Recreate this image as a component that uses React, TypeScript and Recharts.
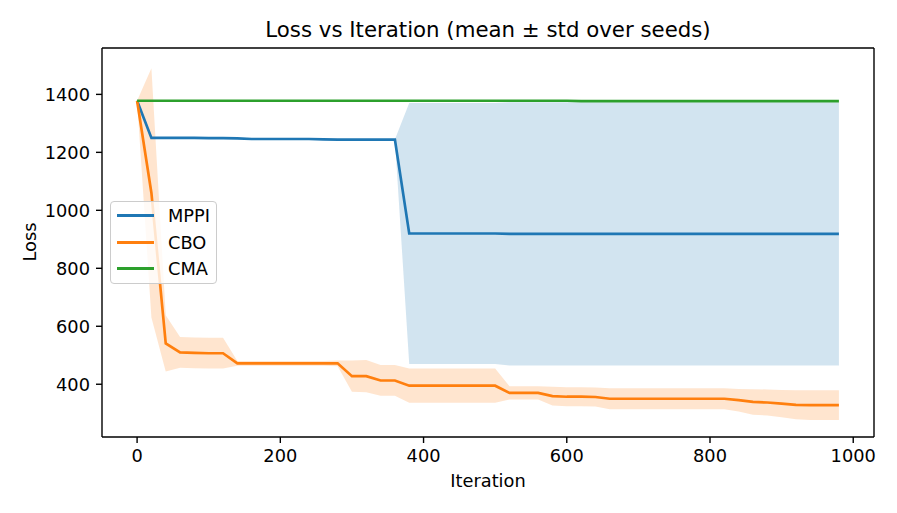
import {
  ComposedChart,
  Line,
  Area,
  XAxis,
  YAxis,
  Legend,
  ReferenceLine,
} from "recharts";

const iterations = [
  0, 20, 40, 60, 80, 100, 120, 140, 160, 180, 200, 220, 240, 260, 280, 300, 320,
  340, 360, 380, 400, 420, 440, 460, 480, 500, 520, 540, 560, 580, 600, 620, 640,
  660, 680, 700, 720, 740, 760, 780, 800, 820, 840, 860, 880, 900, 920, 940, 960,
  980,
];

const mppiMean = [
  1378, 1250, 1250, 1250, 1250, 1249, 1249, 1248, 1246, 1246, 1246, 1246, 1246,
  1245, 1244, 1244, 1244, 1244, 1244, 920, 920, 920, 920, 920, 920, 920, 919, 919,
  919, 919, 919, 919, 919, 919, 919, 919, 919, 919, 919, 919, 919, 919, 919, 919,
  919, 919, 919, 919, 919, 919,
];
const mppiStd = [
  0, 0, 0, 0, 0, 0, 0, 0, 0, 0, 0, 0, 0, 0, 0, 0, 0, 0, 0, 450, 450, 450, 450,
  450, 450, 450, 454, 454, 454, 454, 454, 454, 454, 454, 454, 454, 454, 454, 454,
  454, 454, 454, 454, 454, 454, 454, 454, 454, 454, 454,
];

const cboMean = [
  1378, 1060, 541, 510, 508, 507, 507, 472, 472, 472, 472, 472, 472, 472, 472, 428,
  428, 413, 413, 395, 395, 395, 395, 395, 395, 395, 370, 370, 370, 359, 357, 357,
  356, 350, 350, 350, 350, 350, 350, 350, 350, 350, 345, 339, 337, 333, 329, 328,
  328, 328,
];
const cboStd = [
  0, 430, 97, 53, 53, 53, 53, 8, 8, 8, 8, 8, 8, 8, 10, 54, 56, 53, 53, 59, 59, 59,
  59, 59, 59, 59, 23, 23, 23, 32, 33, 33, 33, 36, 36, 36, 36, 36, 36, 36, 36, 36,
  39, 44, 45, 47, 50, 51, 51, 51,
];

const cmaMean = [
  1378, 1378, 1378, 1378, 1378, 1378, 1378, 1378, 1378, 1378, 1378, 1378, 1378,
  1378, 1378, 1378, 1378, 1378, 1378, 1378, 1378, 1378, 1378, 1378, 1378, 1378,
  1378, 1378, 1378, 1378, 1378, 1377, 1377, 1377, 1377, 1377, 1377, 1377, 1377,
  1377, 1377, 1377, 1377, 1377, 1377, 1377, 1377, 1377, 1377, 1377,
];

const methods = ["MPPI", "CBO", "CMA"];
const xTicks = [0, 200, 400, 600, 800, 1000];
const yTicks = [400, 600, 800, 1000, 1200, 1400];

const COLORS: Record<string, string> = {
  MPPI: "#1f77b4",
  CBO: "#ff7f0e",
  CMA: "#2ca02c",
};

const FONT = "'DejaVu Sans', sans-serif";
const FS = 17.8;

const data = iterations.map((it, i) => ({
  iter: it,
  MPPI: mppiMean[i],
  CBO: cboMean[i],
  CMA: cmaMean[i],
  mppiBand: [mppiMean[i] - mppiStd[i], mppiMean[i] + mppiStd[i]],
  cboBand: [cboMean[i] - cboStd[i], cboMean[i] + cboStd[i]],
}));

const X_DOMAIN = [-49, 1029];
const Y_DOMAIN = [218, 1560];

function LegendBox() {
  return (
    <div
      style={{
        boxSizing: "border-box",
        width: 107,
        height: 83,
        border: "1px solid #cccccc",
        borderRadius: 4,
        background: "rgba(255,255,255,0.8)",
        paddingLeft: 6,
        fontFamily: FONT,
        fontSize: FS,
        color: "#000",
      }}
    >
      {methods.map((m) => (
        <div
          key={m}
          style={{ display: "flex", alignItems: "center", height: 26.7 }}
        >
          <span
            style={{
              display: "inline-block",
              width: 37,
              height: 3,
              background: COLORS[m],
              marginRight: 14,
            }}
          />
          <span>{m}</span>
        </div>
      ))}
    </div>
  );
}

export default function App() {
  const axisLine = { stroke: "#000", strokeWidth: 1.4 };
  const tick = { fill: "#000", fontSize: FS, fontFamily: FONT };

  return (
    <div
      style={{
        position: "absolute",
        left: 0,
        top: 0,
        width: 897,
        height: 513,
        background: "#fff",
        fontFamily: FONT,
      }}
    >
      <div
        style={{
          position: "absolute",
          left: 102,
          width: 772,
          top: 17.6,
          lineHeight: "24px",
          fontSize: 21.3,
          textAlign: "center",
          color: "#000",
        }}
      >
        Loss vs Iteration (mean ± std over seeds)
      </div>
      <div
        style={{
          position: "absolute",
          left: 29.5,
          top: 242,
          width: 60,
          height: 24,
          lineHeight: "24px",
          fontSize: FS,
          textAlign: "center",
          color: "#000",
          transform: "translate(-50%, -50%) rotate(-90deg)",
        }}
      >
        Loss
      </div>
      <ComposedChart
        width={897}
        height={513}
        data={data}
        margin={{ top: 48, right: 23, bottom: 36, left: 42 }}
      >
        <XAxis
          dataKey="iter"
          type="number"
          domain={X_DOMAIN}
          allowDataOverflow
          ticks={xTicks}
          height={40}
          tickSize={6}
          tickMargin={6}
          axisLine={axisLine}
          tickLine={axisLine}
          tick={tick}
          label={{
            value: "Iteration",
            position: "bottom",
            offset: -3,
            fill: "#000",
            fontSize: FS,
            fontFamily: FONT,
          }}
        />
        <YAxis
          type="number"
          domain={Y_DOMAIN}
          allowDataOverflow
          ticks={yTicks}
          width={60}
          tickSize={6}
          tickMargin={6}
          axisLine={axisLine}
          tickLine={axisLine}
          tick={tick}
        />
        <Area
          dataKey="mppiBand"
          type="linear"
          fill={COLORS.MPPI}
          fillOpacity={0.2}
          stroke="none"
          dot={false}
          activeDot={false}
          isAnimationActive={false}
        />
        <Area
          dataKey="cboBand"
          type="linear"
          fill={COLORS.CBO}
          fillOpacity={0.2}
          stroke="none"
          dot={false}
          activeDot={false}
          isAnimationActive={false}
        />
        {methods.map((m) => (
          <Line
            key={m}
            dataKey={m}
            type="linear"
            stroke={COLORS[m]}
            strokeWidth={2.67}
            dot={false}
            activeDot={false}
            isAnimationActive={false}
          />
        ))}
        <ReferenceLine y={Y_DOMAIN[1]} stroke="#000" strokeWidth={1.4} />
        <ReferenceLine x={X_DOMAIN[1]} stroke="#000" strokeWidth={1.4} />
        <Legend
          layout="vertical"
          align="center"
          verticalAlign="middle"
          wrapperStyle={{ left: 110, top: 201, width: 107, height: 83 }}
          content={() => <LegendBox />}
        />
      </ComposedChart>
    </div>
  );
}
